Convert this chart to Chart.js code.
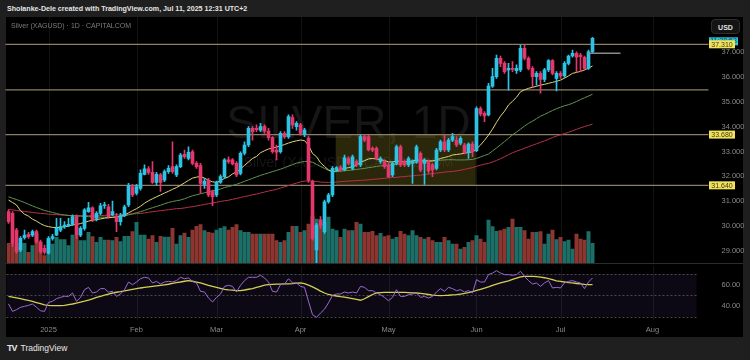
<!DOCTYPE html>
<html><head><meta charset="utf-8">
<script src="https://cdn.jsdelivr.net/npm/chart.js@4.4.1/dist/chart.umd.min.js"></script>
<style>
html,body{margin:0;padding:0;background:#1f1f1f;width:750px;height:360px;overflow:hidden;font-family:"Liberation Sans",Arial,sans-serif;}
#hdr{position:absolute;left:7px;top:5px;color:#e6e6e6;font-weight:bold;font-size:7.1px;white-space:nowrap;}
#panel{position:absolute;left:6px;top:17px;width:737px;height:320px;background:#000;}
#sep{position:absolute;left:6px;top:263px;width:737px;height:1px;background:#2c2c2c;}
#legend{position:absolute;left:11px;top:22px;color:#7c7c7c;font-size:7px;white-space:nowrap;}
#usd{position:absolute;left:711px;top:19px;width:29px;height:15px;border-radius:4px;background:#141414;border:1px solid #2e2e2e;color:#e0e0e0;font-size:7px;font-weight:bold;text-align:center;line-height:15px;box-sizing:border-box;}
#pc{position:absolute;left:0;top:17px;}
#rc{position:absolute;left:0;top:264px;}
#foot{position:absolute;left:7px;top:343px;color:#e8e8e8;font-size:8.5px;white-space:nowrap;}
#foot b{font-size:9px;letter-spacing:-1px;margin-right:4px;}
</style></head>
<body>
<div id="hdr">Sholanke-Dele created with TradingView.com, Jul 11, 2025 12:31 UTC+2</div>
<div id="panel"></div>
<canvas id="pc" width="744" height="247"></canvas>
<div id="sep"></div>
<canvas id="rc" width="744" height="74"></canvas>
<div id="legend">Silver (XAGUSD) · 1D · CAPITALCOM</div>
<div id="usd">USD</div>
<div id="foot"><b>TV</b>TradingView</div>
<script>
// ---------------- DATA ----------------
const open = [30.58,30.51,29.84,29.04,29.54,29.67,29.64,29.78,29.37,29.11,
28.91,29.51,29.64,29.84,29.98,30.02,30.07,30.38,29.64,29.91,
30.58,30.74,30.31,30.51,30.82,30.78,30.45,30.38,30.18,30.42,
30.85,31.59,31.32,31.52,32.08,32.30,32.16,31.76,32.06,31.85,
32.19,32.39,32.06,32.39,32.89,32.72,32.99,32.52,32.43,31.68,
31.85,31.39,31.25,31.76,31.99,32.66,32.66,32.52,32.12,32.93,
33.26,33.93,33.93,33.86,34.00,33.82,33.56,33.06,32.99,33.73,
33.60,34.36,34.00,34.07,33.69,33.53,31.79,29.04,30.25,29.78,
30.98,31.25,32.26,32.35,32.26,32.72,32.32,32.59,32.46,33.60,
33.60,33.13,33.13,32.59,32.59,32.46,32.06,32.52,33.19,32.59,
32.46,32.52,32.59,32.93,32.52,32.59,32.46,32.32,33.06,33.39,
33.06,33.46,33.46,33.33,33.26,32.95,33.30,33.03,34.73,34.53,
34.47,35.63,36.01,36.75,36.54,36.28,36.34,36.25,36.28,37.15,
36.75,36.34,36.01,36.14,35.90,36.28,36.65,35.94,36.14,36.04,
36.54,36.84,36.95,36.88,36.79,36.34,37.01];
const close = [30.18,29.31,28.97,29.51,29.64,29.58,29.78,29.37,28.97,28.95,
29.51,29.58,29.91,29.98,30.04,30.07,30.38,29.64,29.91,30.65,
30.74,30.25,30.51,30.82,30.85,30.38,30.58,30.18,30.42,30.78,
31.63,31.25,31.59,32.12,32.30,32.16,31.76,32.08,31.76,32.19,
32.32,32.19,32.39,32.86,32.79,32.97,32.52,32.39,31.72,31.81,
31.25,31.18,31.76,31.99,32.66,32.59,32.50,32.06,32.93,33.26,
33.93,33.80,33.88,34.00,33.82,33.56,32.99,32.97,33.73,33.60,
34.40,34.07,34.13,33.73,33.86,31.85,29.51,30.04,30.04,30.98,
31.25,32.32,32.35,32.26,32.75,32.52,32.79,32.46,33.60,33.46,
33.06,33.06,32.72,32.72,32.39,31.99,32.52,33.19,32.46,32.46,
32.72,32.59,33.19,32.26,32.66,32.22,32.26,33.06,33.39,33.06,
33.46,33.60,33.26,33.53,32.95,33.30,32.99,34.73,34.51,34.43,
35.63,36.01,36.75,36.54,36.21,36.34,36.30,36.34,37.15,36.75,
36.34,36.01,36.14,35.90,36.28,36.65,36.14,36.14,36.04,36.54,
36.84,36.95,36.79,36.81,36.34,37.01,37.55];
const high = [30.65,30.58,29.91,29.58,29.84,29.75,29.84,29.84,29.44,29.24,
29.58,29.67,30.31,30.31,30.18,30.31,30.45,30.45,29.98,30.71,
30.96,30.78,30.58,30.92,30.96,30.88,31.01,30.51,30.51,30.85,
31.72,31.68,31.68,32.26,32.46,32.39,32.59,32.16,32.12,32.26,
32.43,33.39,32.46,32.93,33.06,33.19,33.06,32.59,32.52,31.92,
31.92,31.45,31.81,32.06,32.72,32.79,32.72,32.59,32.99,33.39,
34.00,34.00,34.07,34.13,34.07,33.93,33.60,33.26,33.80,33.80,
34.47,34.47,34.20,34.13,33.93,33.60,31.85,30.11,30.38,31.05,
31.32,32.39,32.39,32.43,32.86,32.79,32.86,32.66,33.66,33.66,
33.66,33.19,33.19,32.79,32.66,32.52,32.59,33.26,33.26,32.66,
32.79,32.66,33.26,32.99,32.72,32.66,32.52,33.13,33.46,33.66,
33.53,33.73,33.60,33.60,33.33,33.35,33.39,34.80,34.80,34.60,
35.74,36.34,36.88,36.84,36.61,36.54,36.61,36.48,37.28,37.28,
36.81,36.41,36.21,36.21,36.34,36.70,36.70,36.21,36.21,36.61,
36.88,37.08,37.01,36.95,36.84,37.08,37.59];
const low = [30.11,29.17,28.91,28.97,29.48,29.51,29.58,29.31,28.91,28.87,
28.87,29.44,29.62,29.78,29.91,29.98,30.02,29.51,29.58,29.84,
30.55,30.18,30.21,30.45,30.71,30.31,30.42,29.78,30.04,30.38,
30.78,31.18,31.25,31.45,32.06,32.08,31.72,31.65,31.39,31.79,
32.12,32.12,31.99,32.35,32.72,32.66,32.46,32.32,31.32,31.52,
31.18,30.82,31.18,31.72,31.92,32.52,32.46,31.99,32.06,32.86,
33.19,33.46,33.80,33.80,33.73,33.46,32.93,32.66,32.93,33.53,
33.53,33.93,33.86,33.66,33.60,31.76,29.44,28.50,29.91,29.71,
30.92,31.18,32.19,32.19,32.22,32.46,32.26,32.39,32.39,33.39,
33.02,32.99,32.66,32.52,32.32,31.95,31.99,32.46,32.39,32.39,
32.39,31.72,32.52,32.19,31.68,32.12,31.99,32.26,32.99,32.99,
32.99,33.39,33.19,33.26,32.90,32.72,32.79,32.99,34.43,34.20,
34.43,35.58,35.94,36.41,36.14,35.47,36.21,36.14,36.21,36.68,
36.28,35.61,35.67,35.34,35.81,36.21,36.08,35.44,35.94,35.98,
36.48,36.79,36.21,36.21,36.28,36.30,36.97];
const volume = [20.7,20.7,16.7,20.7,20.7,11.7,18.3,30,21.7,8.3,
25,20,26.7,24.3,24.3,18.3,29,28,23.3,23.3,
31.7,27.3,21.7,26.7,24,24,23.3,26.7,22.3,27.7,
27.7,32.3,41.7,29,29,25,28.3,21.7,27.7,27,
27,35.7,20,28.3,31,26.7,34,37.7,39.3,33.3,
31.7,31,34,35.7,37.3,34,36.7,39.3,33.3,31.7,
31.7,30,30,30,30,30,30,23.3,21.7,23.3,
31.7,37.7,37.7,31.7,33.3,40,48,45,40,42,
47,35,33.3,26.7,35,33.3,33.3,41.7,40,31.7,
31.7,32.7,28.3,30.7,27.3,28.3,25,26.7,32.7,30,
28.3,33.3,28.3,26.7,25,26.7,23.3,21.7,21.7,26.7,
23.3,20,20,15,16.7,21.7,23.3,28.3,25,21.7,
44,37.3,32.7,33.3,35,36.7,45,36.7,36.7,33.3,
25,31.7,31.7,32.3,20,30,34,24.3,26.7,22.3,
24,15,30,25,24,32.3,20.7];
const maFast = [31.05,30.95,30.85,30.62,30.48,30.40,30.28,30.20,30.10,30.02,
29.98,29.95,29.94,29.95,29.97,30.00,30.05,30.07,30.10,30.15,
30.20,30.24,30.26,30.29,30.32,30.34,30.36,30.37,30.39,30.45,
30.53,30.62,30.70,30.80,30.92,31.02,31.10,31.18,31.25,31.33,
31.40,31.48,31.55,31.64,31.74,31.84,31.93,31.97,31.99,31.93,
31.84,31.78,31.76,31.82,31.92,31.98,32.10,32.18,32.30,32.44,
32.58,32.72,32.80,32.95,33.03,33.10,33.14,33.18,33.22,33.28,
33.34,33.39,33.43,33.46,33.44,33.25,32.92,32.79,32.55,32.40,
32.26,32.19,32.22,32.28,32.32,32.35,32.39,32.45,32.57,32.63,
32.70,32.72,32.70,32.67,32.64,32.58,32.58,32.62,32.60,32.59,
32.60,32.62,32.66,32.65,32.64,32.62,32.62,32.66,32.72,32.76,
32.80,32.86,32.88,32.90,32.93,32.96,32.99,33.10,33.26,33.45,
33.66,33.90,34.17,34.42,34.62,34.87,35.02,35.18,35.40,35.48,
35.54,35.58,35.62,35.67,35.70,35.74,35.78,35.82,35.87,35.95,
36.04,36.14,36.18,36.22,36.28,36.35,36.44];
const maMid = [31.18,31.12,31.07,31.01,30.95,30.88,30.81,30.75,30.69,30.63,
30.59,30.55,30.51,30.47,30.45,30.43,30.42,30.41,30.40,30.39,
30.38,30.37,30.37,30.36,30.36,30.35,30.35,30.36,30.38,30.41,
30.45,30.49,30.54,30.58,30.63,30.69,30.74,30.79,30.84,30.90,
30.95,30.99,31.02,31.05,31.10,31.16,31.22,31.26,31.30,31.34,
31.38,31.42,31.45,31.49,31.55,31.59,31.63,31.68,31.74,31.80,
31.86,31.92,31.98,32.04,32.09,32.14,32.19,32.24,32.29,32.35,
32.41,32.47,32.53,32.57,32.60,32.60,32.57,32.48,32.40,32.32,
32.24,32.19,32.19,32.21,32.23,32.24,32.26,32.28,32.30,32.32,
32.35,32.37,32.40,32.42,32.44,32.45,32.47,32.49,32.51,32.53,
32.54,32.55,32.57,32.58,32.60,32.61,32.62,32.64,32.65,32.66,
32.67,32.67,32.66,32.66,32.66,32.67,32.68,32.72,32.78,32.84,
32.90,33.02,33.14,33.27,33.40,33.53,33.67,33.78,33.90,34.02,
34.13,34.22,34.32,34.42,34.49,34.57,34.65,34.72,34.78,34.84,
34.88,34.94,35.01,35.09,35.16,35.23,35.30];
const maSlow = [30.67,30.65,30.63,30.61,30.59,30.57,30.55,30.53,30.51,30.50,
30.48,30.47,30.46,30.45,30.44,30.43,30.42,30.42,30.42,30.42,
30.42,30.42,30.42,30.42,30.43,30.44,30.45,30.45,30.46,30.47,
30.48,30.49,30.50,30.51,30.53,30.56,30.58,30.60,30.62,30.64,
30.66,30.68,30.70,30.71,30.73,30.76,30.78,30.81,30.84,30.87,
30.90,30.93,30.96,30.99,31.02,31.04,31.08,31.11,31.15,31.19,
31.22,31.26,31.29,31.33,31.37,31.41,31.44,31.48,31.53,31.58,
31.63,31.68,31.73,31.78,31.81,31.82,31.81,31.79,31.77,31.76,
31.76,31.76,31.77,31.79,31.80,31.81,31.82,31.83,31.84,31.85,
31.86,31.88,31.89,31.91,31.92,31.94,31.95,31.96,31.98,31.99,
32.01,32.02,32.04,32.05,32.07,32.09,32.11,32.13,32.15,32.17,
32.19,32.20,32.22,32.25,32.28,32.32,32.35,32.40,32.45,32.49,
32.52,32.58,32.64,32.71,32.79,32.87,32.95,33.01,33.07,33.13,
33.19,33.25,33.31,33.37,33.43,33.49,33.56,33.62,33.67,33.72,
33.77,33.83,33.89,33.95,34.00,34.05,34.10];
const rsi = [42.0,35.0,36.6,38.8,39.7,40.6,41.9,38.8,35.6,35.0,
43.4,44.4,46.9,48.1,49.1,49.0,52.2,44.4,48.0,55.3,
57.5,52.2,53.1,56.3,56.3,53.0,53.8,49.0,51.3,55.3,
62.5,60.0,62.5,65.6,66.9,66.3,61.6,63.1,60.6,62.5,
63.1,62.5,63.8,66.9,65.6,66.3,63.1,61.6,53.8,53.1,
47.5,43.8,48.1,51.3,58.4,59.4,58.4,53.1,59.4,63.8,
66.9,66.9,66.9,68.8,66.3,62.5,53.8,53.1,60.0,60.6,
65.6,61.6,61.6,58.4,57.5,44.4,31.9,29.4,33.4,37.0,
43.0,50.0,51.3,51.3,53.1,52.2,53.1,52.2,58.4,57.5,
54.4,54.4,52.2,50.6,48.1,45.0,48.1,55.3,49.0,49.0,
50.6,51.3,52.2,48.1,49.0,47.5,49.0,53.1,56.3,53.8,
57.5,56.3,54.4,55.3,53.1,54.4,52.2,64.7,62.5,62.5,
69.4,70.9,73.1,70.9,69.4,69.4,68.8,69.4,72.5,67.8,
63.8,60.6,61.6,58.4,61.6,63.8,56.9,57.5,56.9,61.6,
63.1,63.8,62.5,61.6,56.3,62.5,66.3];
const rsiMa = [49.0,48.3,47.6,46.9,46.1,45.2,44.4,43.3,42.2,41.0,
40.6,40.4,40.3,40.3,40.7,41.3,41.9,42.8,43.7,44.6,
45.6,46.8,48.0,49.0,50.1,51.2,52.2,52.9,53.5,54.2,
54.9,55.6,56.3,56.9,57.4,57.9,58.4,58.9,59.4,59.9,
60.4,61.2,61.9,62.5,63.2,63.8,63.2,62.4,61.6,60.5,
59.4,58.4,57.5,56.6,55.6,55.1,54.8,54.5,54.4,55.0,
55.7,56.3,57.4,58.5,59.6,60.1,60.3,60.5,60.6,60.7,
60.8,61.0,61.4,61.6,61.0,59.5,58.0,56.0,54.0,52.2,
50.8,50.0,49.4,48.8,48.3,47.6,46.9,46.2,45.4,46.8,
48.8,50.8,52.2,52.5,52.7,52.8,52.8,52.8,52.8,52.7,
52.5,52.3,52.2,51.8,51.3,50.8,50.3,50.0,49.8,49.9,
50.1,50.4,50.6,51.2,51.8,52.6,53.6,54.6,55.7,56.7,
58.0,59.4,60.6,61.6,62.6,63.6,64.9,66.1,67.3,67.8,
67.8,67.8,67.5,67.0,66.5,65.6,64.7,63.5,63.0,62.5,
62.0,61.6,61.1,60.7,60.2,60.0,60.0];

const slotCount = 175;                       // bars + empty future space
const monthTickIndex = [10, 32, 52, 73, 95, 117, 138, 161];
const monthTickText  = ['2025','Feb','Mar','Apr','May','Jun','Jul','Aug'];
const priceTicks = [29,30,31,32,33,34,35,36,37];
const priceTickLabels = ['29.000','30.000','31.000','32.000','33.000','34.000','35.000','36.000','37.000'];
const levels = [37.31, 35.48, 33.68, 31.64];
const levelTags = ['37.310', null, '33.680', '31.640'];
const boxIndexRange = [81.8, 116.8];
const boxPriceRange = [33.68, 31.64];
const refLineIndex = [145, 152.5];
const refLineValue = 36.95;
const rsiTicks = [40, 60];
const rsiTickLabels = ['40.00','60.00'];
const rsiBands = [70, 50, 30];
const countdownText = '11:28:53';

// --------------- CHARTS ---------------
Chart.defaults.font.family = '"Liberation Sans", Arial, sans-serif';
const UP='#2cc4e4', DN='#e4386c', VUP='#1c6f67', VDN='#8b3630';
const labels = Array.from({length: slotCount}, (_, i) => String(i));
const isUp = i => close[i] >= open[i];
const refData = labels.map((_, i) => (i >= refLineIndex[0] && i <= Math.ceil(refLineIndex[1])) ? refLineValue : null);
const noPad = s => { s.paddingTop = 0; s.paddingBottom = 0; s.paddingLeft = 0; s.paddingRight = 0; };

function vGrid(chart){
  const {ctx, chartArea:a, scales:{x}} = chart;
  ctx.save(); ctx.strokeStyle='#131313'; ctx.lineWidth=1;
  monthTickIndex.forEach(i => {
    const px = Math.round(x.getPixelForValue(i)) + 0.5;
    ctx.beginPath(); ctx.moveTo(px, a.top); ctx.lineTo(px, a.bottom); ctx.stroke();
  });
  ctx.restore();
}

const pricePlugin = {
  id:'pricePane',
  beforeDatasetsDraw(chart){
    const {ctx, chartArea:a, scales:{x,y}} = chart;
    vGrid(chart);
    ctx.save();
    const cx = (a.left + a.right)/2 - 8;
    ctx.fillStyle = '#161616'; ctx.textAlign='center'; ctx.textBaseline='alphabetic';
    ctx.font = '46px "Liberation Sans", Arial, sans-serif';
    ctx.fillText('SILVER, 1D', cx, 121);
    ctx.font = '14px "Liberation Sans", Arial, sans-serif';
    ctx.fillText('Silver (XAGUSD) · CAPITALCOM', cx, 150);
    // range box
    const bx0 = x.getPixelForValue(boxIndexRange[0]), bx1 = x.getPixelForValue(boxIndexRange[1]);
    const by0 = y.getPixelForValue(boxPriceRange[0]), by1 = y.getPixelForValue(boxPriceRange[1]);
    ctx.fillStyle = 'rgba(135,122,30,0.32)';
    ctx.fillRect(bx0, by0, bx1-bx0, by1-by0);
    // horizontal levels
    ctx.strokeStyle = '#8d8165'; ctx.lineWidth = 1.3;
    levels.forEach(v => {
      const py = y.getPixelForValue(v);
      ctx.beginPath(); ctx.moveTo(a.left - 1, py); ctx.lineTo(a.right + 2, py); ctx.stroke();
    });
    ctx.restore();
  },
  afterDraw(chart){
    const {ctx, chartArea:a, scales:{y}} = chart;
    ctx.save();
    ctx.textAlign='center'; ctx.textBaseline='middle';
    ctx.font = '7px "Liberation Sans", Arial, sans-serif';
    const lx = a.right + 2.5, w = 29, h = 8;
    const py = y.getPixelForValue(close[close.length-1]);
    ctx.fillStyle = '#2fc7e0'; ctx.fillRect(lx, py - 1, w, h);
    ctx.fillStyle = '#1b3b44'; ctx.fillText(countdownText, lx + w/2, py + 3);
    levels.forEach((v, k) => {
      if (!levelTags[k]) return;
      const ly = y.getPixelForValue(v);
      ctx.fillStyle = '#f2e35a'; ctx.fillRect(lx, ly - h/2, w - 3, h);
      ctx.fillStyle = '#3b3a1c'; ctx.fillText(levelTags[k], lx + (w-3)/2, ly + 0.5);
    });
    ctx.restore();
  }
};

new Chart(document.getElementById('pc'), {
  type:'bar',
  data:{ labels, datasets:[
    { type:'bar', yAxisID:'yv', data: volume, order:10, grouped:false, barThickness:3.3,
      backgroundColor: volume.map((_, i) => isUp(i) ? VUP : VDN) },
    { type:'line', data: maSlow, order:6, borderColor:'#b8304a', borderWidth:1, pointRadius:0, tension:0 },
    { type:'line', data: maMid, order:5, borderColor:'#5f9450', borderWidth:1, pointRadius:0, tension:0 },
    { type:'line', data: maFast, order:4, borderColor:'#e0d673', borderWidth:1, pointRadius:0, tension:0 },
    { type:'bar', data: low.map((l, i) => [l, high[i]]), order:2, grouped:false, barThickness:1,
      backgroundColor: low.map((_, i) => isUp(i) ? UP : DN) },
    { type:'bar', data: open.map((o, i) => [o, close[i]]), order:1, grouped:false, barThickness:3, minBarLength:1,
      backgroundColor: open.map((_, i) => isUp(i) ? UP : DN) },
    { type:'line', data: refData, order:0, borderColor:'#8a8a8a', borderWidth:1.5, pointRadius:0, spanGaps:false }
  ]},
  options:{
    responsive:false, animation:false, devicePixelRatio:1,
    layout:{ autoPadding:false, padding:{ left:6.5, right:0, top:0, bottom:0 } },
    plugins:{ legend:{display:false}, tooltip:{enabled:false} },
    scales:{
      x:{ display:false, offset:true, afterFit: noPad },
      y:{ position:'right', min:28.477, max:38.407,
          grid:{display:false}, border:{display:false},
          afterFit: s => { s.width = 37.5; noPad(s); },
          afterBuildTicks: s => { s.ticks = priceTicks.map(v => ({value:v})); },
          ticks:{ color:'#8a8a8a', padding:7, font:{size:7.5},
                  callback: v => priceTickLabels[priceTicks.indexOf(v)] } },
      yv:{ display:false, min:0, max:247, afterFit: noPad }
    }
  },
  plugins:[pricePlugin]
});

const rsiPlugin = {
  id:'rsiPane',
  beforeDatasetsDraw(chart){
    const {ctx, chartArea:a, scales:{y}} = chart;
    vGrid(chart);
    ctx.save();
    const t = y.getPixelForValue(rsiBands[0]), b = y.getPixelForValue(rsiBands[2]);
    ctx.fillStyle = 'rgba(126,87,194,0.1)';
    ctx.fillRect(a.left, t, a.right - a.left - 10, b - t);
    ctx.strokeStyle = '#4a4a4a'; ctx.lineWidth = 1; ctx.setLineDash([2,2]);
    rsiBands.forEach(v => {
      const py = Math.round(y.getPixelForValue(v)) + 0.5;
      ctx.beginPath(); ctx.moveTo(a.left, py); ctx.lineTo(a.right - 10, py); ctx.stroke();
    });
    ctx.restore();
  }
};

new Chart(document.getElementById('rc'), {
  type:'line',
  data:{ labels, datasets:[
    { data: rsi, borderColor:'#9a6ad0', borderWidth:1, pointRadius:0, tension:0 },
    { data: rsiMa, borderColor:'#d4cf52', borderWidth:1.3, pointRadius:0, tension:0 }
  ]},
  options:{
    responsive:false, animation:false, devicePixelRatio:1,
    layout:{ autoPadding:false, padding:{ left:6.5, right:0, top:2, bottom:0 } },
    plugins:{ legend:{display:false}, tooltip:{enabled:false} },
    scales:{
      x:{ offset:true, grid:{display:false, drawTicks:false}, border:{display:false},
          afterFit: s => { s.height = 18; noPad(s); },
          ticks:{ autoSkip:false, maxRotation:0, padding:5, color:'#8a8a8a', font:{size:7.5},
                  callback: (v, i) => { const k = monthTickIndex.indexOf(i); return k >= 0 ? monthTickText[k] : ''; } } },
      y:{ position:'right', min:26.91, max:77.49, grid:{display:false}, border:{display:false},
          afterFit: s => { s.width = 37.5; noPad(s); },
          afterBuildTicks: s => { s.ticks = rsiTicks.map(v => ({value:v})); },
          ticks:{ color:'#8a8a8a', padding:7, font:{size:7.5},
                  callback: v => rsiTickLabels[rsiTicks.indexOf(v)] } }
    }
  },
  plugins:[rsiPlugin]
});
</script>
</body></html>
